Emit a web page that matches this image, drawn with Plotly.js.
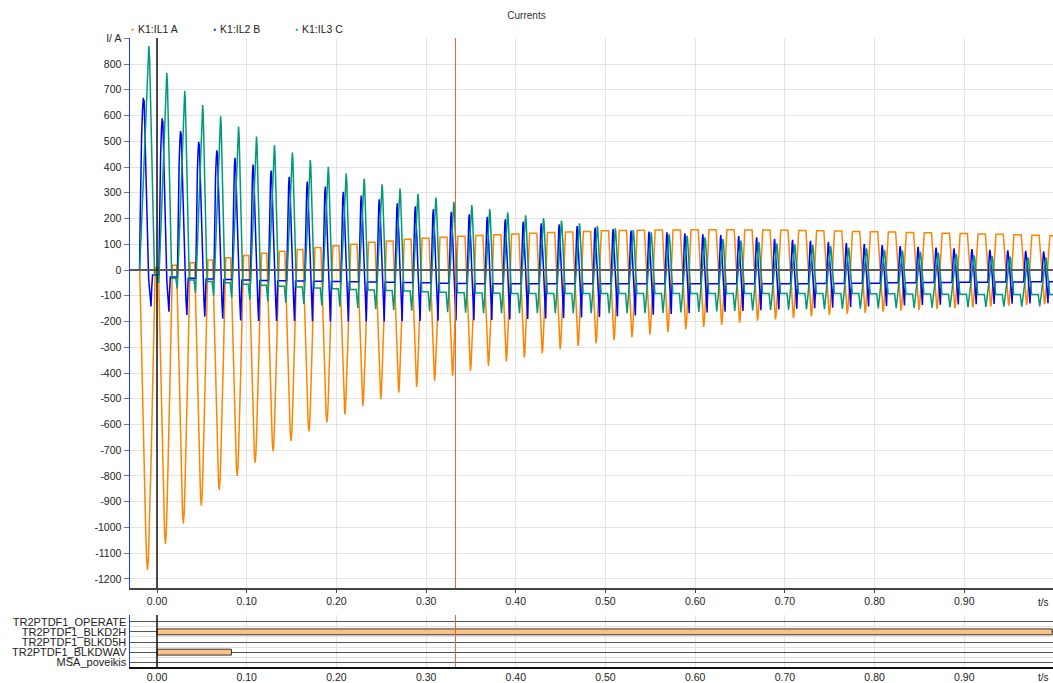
<!DOCTYPE html>
<html>
<head>
<meta charset="utf-8">
<script src="https://cdn.plot.ly/plotly-3.0.1.min.js"></script>
<style>
html,body{margin:0;padding:0;background:#fff;}
#chart{width:1053px;height:683px;}
</style>
</head>
<body>
<div id="chart"></div>
<script>
// ---------------------------------------------------------------
// Transformer energisation record: phase currents K1:IL1..IL3 (A)
// One entry per 20 ms network cycle, cycle 0 starts at energisation.
// ---------------------------------------------------------------

// IL1 (phase A): negative inrush pulse, positive flat top between pulses
const ilATrough = [-1165,-1064,-984,-915,-854,-800,-748,-704,-664,-627,
                   -592,-561,-528,-502,-476,-454,-430,-411,-391,-372,
                   -355,-339,-324,-308,-295,-285,-272,-261,-250,-241,
                   -230,-221,-212,-205,-197,-192,-186,-180,-175,-170,
                   -166,-162,-158,-155,-151,-148,-145,-142,-139,-136,-133];
const ilAPlateau = [10,18,28,39,48,56,65,73,80,87,
                    94,100,108,113,119,123,127,131,134,137,
                    140,143,146,148,150,152,153,154,155,155,
                    156,156,156,155,155,154,153,152,151,150,
                    149,148,146,145,143,142,140,139,137,135,133];
const ilAWidthMs = [17.3,15.6,15.1,14.8,14.6,14.4,14.2,14.0,13.8,13.6,
                    13.4,13.1,12.8,12.6,12.4,12.3,12.2,12.1,12.0,12.0,
                    11.9,11.9,11.9,11.9,11.9,11.9,11.9,11.9,11.9,11.9,
                    11.9,11.9,11.9,11.9,11.9,11.9,11.9,11.9,11.9,11.9,
                    11.9,11.9,11.9,11.9,11.9,11.9,11.9,11.9,11.9,11.9,11.9];

// IL2 (phase B): positive pulse with a small notch, short negative dip, negative flat level
const ilBPeak = [669,589,540,498,465,436,410,386,362,343,
                 324,304,289,275,259,247,236,226,216,207,
                 197,188,181,177,171,165,159,153,149,146,
                 142,139,136,132,127,121,117,113,109,105,
                 101,97,93,90,87,84,81,78,76,74,72];
const ilBTrough = [-142,-162,-175,-181,-189,-196,-198,-198,-198,-199,
                   -200,-200,-200,-200,-199,-198,-197,-196,-195,-194,
                   -192,-190,-188,-186,-184,-182,-180,-177,-174,-171,
                   -168,-165,-162,-159,-156,-153,-150,-148,-146,-144,
                   -142,-140,-138,-136,-135,-134,-133,-132,-131,-130,-129];
const ilBPlateau = [-19,-27,-32,-35,-37,-39,-41,-42,-43,-44,
                    -45,-46,-47,-48,-49,-50,-51,-52,-53,-53,
                    -53,-53,-53,-53,-53,-53,-53,-53,-53,-53,
                    -53,-53,-53,-53,-53,-53,-53,-52,-52,-51,
                    -51,-50,-50,-49,-49,-48,-48,-47,-47,-46,-46];
const ilBWidthMs = [14.5,12.8,12.0,11.5,11.2,10.8,10.5,10.3,10.0,9.8,
                    9.6,9.5,9.4,9.3,9.1,9.0,8.9,8.8,8.7,8.6,
                    8.5,8.4,8.3,8.3,8.2,8.2,8.1,8.1,8.0,8.0,
                    8.0,8.0,8.0,8.0,8.0,8.0,8.0,8.0,8.0,8.0,
                    8.0,8.0,8.0,8.0,8.0,8.0,8.0,8.0,8.0,8.0,8.0];

// IL3 (phase C): large positive pulse, negative flat level, dip before each pulse
const ilCPeak = [870,766,696,641,597,557,518,485,456,427,
                 401,375,355,333,316,296,281,265,252,237,
                 224,212,202,192,181,171,162,155,146,139,
                 133,127,120,114,108,103,100,97,93,87,
                 84,78,75,71,67,62,57,54,52,49,49];
const ilCTrough = [0,-50,-72,-88,-100,-108,-115,-121,-127,-132,
                   -138,-142,-147,-151,-155,-158,-161,-164,-166,-168,
                   -168,-168,-168,-168,-168,-168,-168,-168,-168,-167,
                   -165,-163,-161,-159,-157,-155,-154,-153,-152,-151,
                   -150,-149,-148,-147,-146,-145,-144,-143,-142,-142,-141];
const ilCPlateau = [-20,-32,-39,-45,-50,-55,-59,-63,-66,-70,
                    -73,-76,-78,-80,-82,-84,-86,-88,-89,-90,
                    -91,-91,-91,-91,-91,-91,-91,-91,-91,-91,
                    -91,-91,-91,-91,-91,-91,-91,-91,-91,-91,
                    -92,-92,-93,-93,-94,-94,-95,-95,-95,-95,-95];
const ilCWidthMs = [16.7,14.5,13.4,12.8,12.5,12.3,12.0,11.8,11.7,11.6,
                    11.5,11.4,11.4,11.3,11.3,11.2,11.2,11.1,11.0,11.0,
                    11.0,11.0,11.0,11.0,11.0,11.0,11.0,11.0,11.0,11.0,
                    11.0,11.0,11.0,11.0,11.0,11.0,11.0,11.0,11.0,11.0,
                    11.0,11.0,11.0,11.0,11.0,11.0,11.0,11.0,11.0,11.0,11.0];

// Pulse outlines across one pulse: [position 0..1, fraction of the excursion]
const pulseA = [[0,0],[0.06,0.13],[0.12,0.28],[0.19,0.45],[0.26,0.62],[0.33,0.77],[0.39,0.88],[0.44,0.96],[0.5,1],
                [0.56,0.96],[0.61,0.88],[0.67,0.77],[0.74,0.62],[0.81,0.45],[0.88,0.28],[0.94,0.13],[1,0]];
// 'notch' entries are an absolute drop (A) below the pulse peak
const pulseB = [[0,'up',0],[0.05,'up',0.3],[0.1,'up',0.56],[0.16,'up',0.78],[0.23,'up',0.93],[0.29,'up',1],
                [0.32,'notch',16],[0.35,'notch',9],[0.39,'up',0.88],[0.48,'up',0.6],[0.6,'up',0.22],
                [0.7,'down',0.13],[0.8,'down',0.6],[0.88,'down',1],[0.94,'down',0.4],[1,'down',0]];
const pulseC = [[0,'rise',0],[0.12,'rise',0.18],[0.25,'rise',0.4],[0.38,'rise',0.62],[0.5,'rise',0.83],
                [0.57,'rise',0.95],[0.62,'rise',1],[0.67,'fall',0.95],[0.74,'fall',0.75],[0.82,'fall',0.45],
                [0.91,'fall',0.15],[1,'fall',0]];

// Binary channels of the differential protection
const signalNames = ['TR2PTDF1_OPERATE','TR2PTDF1_BLKD2H','TR2PTDF1_BLKD5H','TR2PTDF1_BLKDWAV','MSA_poveikis'];
const signalOnFrom = [null, 0.000, null, 0.000, null];
const signalOnTo   = [null, 0.998, null, 0.083, null];

// Time axis
const tickTimes = [0,0.1,0.2,0.3,0.4,0.5,0.6,0.7,0.8,0.9];
const tickTexts = ['0.00','0.10','0.20','0.30','0.40','0.50','0.60','0.70','0.80','0.90'];
const currentTicks = [-1200,-1100,-1000,-900,-800,-700,-600,-500,-400,-300,-200,-100,0,100,200,300,400,500,600,700,800,900];
const currentTickText = ['-1200','-1100','-1000','-900','-800','-700','-600','-500','-400','-300','-200','-100','0','100','200','300','400','500','600','700','800','I/ A'];
const cursorTimes = [0, 0.3327];

const PERIOD = 0.02;
const T_ENERGISE = -0.0195;
const A_TROUGH_AT = 0.0089, B_TROUGH_AT = 0.0128, C_PEAK_AT = 0.0104;
const T_MIN = -0.0301, T_MAX = 0.9989;

function phaseA(){
  const t=[T_MIN], v=[0];
  let prev = 0;
  for (let k=0;k<ilATrough.length;k++){
    const w = ilAWidthMs[k]/1000;
    const start = T_ENERGISE + k*PERIOD + A_TROUGH_AT - w/2;
    const P = ilAPlateau[k], D = ilATrough[k];
    for (const [s,f] of pulseA){
      const base = s<0.5 ? prev : P;
      t.push(start + s*w); v.push(base + f*(D-base));
    }
    prev = P;
  }
  t.push(T_MAX + 0.003); v.push(prev);
  return {t, v};
}

function phaseB(){
  const t=[T_MIN], v=[0];
  let prev = 0;
  for (let k=0;k<ilBPeak.length;k++){
    const w = ilBWidthMs[k]/1000;
    const start = T_ENERGISE + k*PERIOD + B_TROUGH_AT - 0.88*w;
    const H = ilBPeak[k], D = ilBTrough[k], L = ilBPlateau[k];
    for (const [s,kind,f] of pulseB){
      let val;
      if (kind==='up'){ const base = s<0.29 ? prev : L; val = base + f*(H-base); }
      else if (kind==='notch'){ val = H - f; }
      else { val = L + f*(D-L); }
      t.push(start + s*w); v.push(val);
    }
    prev = L;
  }
  t.push(T_MAX + 0.003); v.push(prev);
  return {t, v};
}

function phaseC(){
  const t=[T_MIN], v=[0];
  let prev = 0;
  for (let k=0;k<ilCPeak.length;k++){
    const w = ilCWidthMs[k]/1000;
    const start = T_ENERGISE + k*PERIOD + C_PEAK_AT - 0.62*w;
    const H = ilCPeak[k], D = ilCTrough[k], L = ilCPlateau[k];
    t.push(start - 0.0017); v.push(prev);
    t.push(start - 0.0008); v.push(prev + 0.4*(D-prev));
    for (const [s,kind,f] of pulseC){
      const val = kind==='rise' ? D + f*(H-D) : L + f*(H-L);
      t.push(start + s*w); v.push(val);
    }
    prev = L;
  }
  t.push(T_MAX + 0.003); v.push(prev);
  return {t, v};
}

const A = phaseA(), B = phaseB(), C = phaseC();
const FONT = 'Liberation Sans, Arial, sans-serif';
const COL_A = '#ff8400', COL_B = '#0000ff', COL_C = '#009a78';

// Binary channel bars
const barY=[], barBase=[], barLen=[];
signalNames.forEach((n,i)=>{
  if (signalOnFrom[i]!==null){
    barY.push(signalNames.length - i);
    barBase.push(signalOnFrom[i]);
    barLen.push(signalOnTo[i]-signalOnFrom[i]);
  }
});

const traces = [
  {type:'scatter', mode:'lines', x:A.t, y:A.v, name:'K1:IL1 A', line:{color:COL_A, width:1.5}, xaxis:'x', yaxis:'y', hoverinfo:'skip'},
  {type:'scatter', mode:'lines', x:B.t, y:B.v, name:'K1:IL2 B', line:{color:COL_B, width:1.5}, xaxis:'x', yaxis:'y', hoverinfo:'skip'},
  {type:'scatter', mode:'lines', x:C.t, y:C.v, name:'K1:IL3 C', line:{color:COL_C, width:1.5}, xaxis:'x', yaxis:'y', hoverinfo:'skip'},
  {type:'bar', orientation:'h', y:barY, x:barLen, base:barBase, width:0.58,
   marker:{color:'#ffc184', line:{color:'#333', width:1}}, xaxis:'x2', yaxis:'y2', hoverinfo:'skip'}
];

// Layout geometry (pixels -> paper fractions)
const W = 1053, Hpx = 683, ML = 130, MT = 38, MB = 16;
const plotH = Hpx - MT - MB, plotW = W - ML;
const py = p => (Hpx - MB - p) / plotH;
const px = p => (p - ML) / plotW;

// Zero line drawn over the traces, then the time cursors
const shapes = [
  {type:'line', xref:'x domain', yref:'y', x0:0, x1:1, y0:0, y1:0, line:{color:'#5a5a5a', width:2}, layer:'above'}
];
cursorTimes.forEach((ct,i)=>{
  const col = i===0 ? '#111' : '#e0603c';
  const wid = i===0 ? 1.5 : 1;
  shapes.push({type:'line', xref:'x', yref:'y domain', x0:ct, x1:ct, y0:0, y1:1, line:{color:col, width:wid}, layer:'above'});
  shapes.push({type:'line', xref:'x2', yref:'y2 domain', x0:ct, x1:ct, y0:0, y1:1, line:{color:col, width:wid}, layer:'above'});
});

const legendItems = [['K1:IL1 A', COL_A, 132.5], ['K1:IL2 B', COL_B, 214.5], ['K1:IL3 C', COL_C, 296.5]];
const annotations = [];
legendItems.forEach(([txt,col,x0])=>{
  annotations.push({xref:'paper', yref:'paper', x:px(x0), y:py(29.5), text:'●', showarrow:false,
    xanchor:'center', yanchor:'middle', font:{family:FONT, size:5, color:col}});
  annotations.push({xref:'paper', yref:'paper', x:px(x0+3.5), y:py(29.5), text:txt, showarrow:false,
    xanchor:'left', yanchor:'middle', font:{family:FONT, size:10.5, color:'#222'}});
});
annotations.push({xref:'paper', yref:'paper', x:px(1043), y:py(602), text:'t/s', showarrow:false,
  xanchor:'center', yanchor:'middle', font:{family:FONT, size:10, color:'#222'}});
annotations.push({xref:'paper', yref:'paper', x:px(1043), y:py(677), text:'t/s', showarrow:false,
  xanchor:'center', yanchor:'middle', font:{family:FONT, size:10, color:'#222'}});

const layout = {
  width: W, height: Hpx,
  margin: {l:ML, r:0, t:MT, b:MB, pad:0},
  paper_bgcolor:'#fff', plot_bgcolor:'#fff',
  showlegend:false,
  font:{family:FONT, size:10.5, color:'#222'},
  title:{text:'Currents', font:{family:FONT, size:10, color:'#333'}, x:0.5, xref:'container', xanchor:'center',
         y:1-15/Hpx, yref:'container', yanchor:'middle'},
  xaxis:{domain:[0,1], anchor:'y', range:[T_MIN,T_MAX], tickmode:'array', tickvals:tickTimes, ticktext:tickTexts,
         showgrid:true, gridcolor:'#e4e4e4', gridwidth:1, zeroline:false,
         ticks:'outside', ticklen:3, tickcolor:'#444', showline:true, linecolor:'#444', linewidth:1.5,
         tickfont:{family:FONT, size:10.5, color:'#222'}},
  yaxis:{domain:[py(588),1], anchor:'x', range:[-1235,901], tickmode:'array', tickvals:currentTicks, ticktext:currentTickText,
         showgrid:true, gridcolor:'#e4e4e4', gridwidth:1, zeroline:false,
         ticks:'outside', ticklen:5, tickcolor:'#777', showline:true, linecolor:'#1a3cff', linewidth:1.5,
         tickfont:{family:FONT, size:10.5, color:'#222'}},
  xaxis2:{domain:[0,1], anchor:'y2', range:[T_MIN,T_MAX], tickmode:'array', tickvals:tickTimes, ticktext:tickTexts,
          showgrid:true, gridcolor:'#e4e4e4', gridwidth:1, zeroline:false,
          ticks:'', showline:true, linecolor:'#111', linewidth:1.5,
          tickfont:{family:FONT, size:10.5, color:'#222'}},
  yaxis2:{domain:[0,py(615)], anchor:'x2', range:[0.537,5.66], tickmode:'array', tickvals:[5,4,3,2,1], ticktext:signalNames,
          showgrid:true, gridcolor:'#555', gridwidth:1, zeroline:false,
          minor:{tickmode:'array', tickvals:[1.5,2.5,3.5,4.5], showgrid:true, gridcolor:'#dedede', gridwidth:1, ticks:''},
          ticks:'', showline:true, linecolor:'#1a3cff', linewidth:1.5,
          tickfont:{family:FONT, size:11, color:'#222'}},
  bargap:0,
  shapes: shapes,
  annotations: annotations
};

Plotly.newPlot('chart', traces, layout, {displayModeBar:false, staticPlot:true});
</script>
</body>
</html>
